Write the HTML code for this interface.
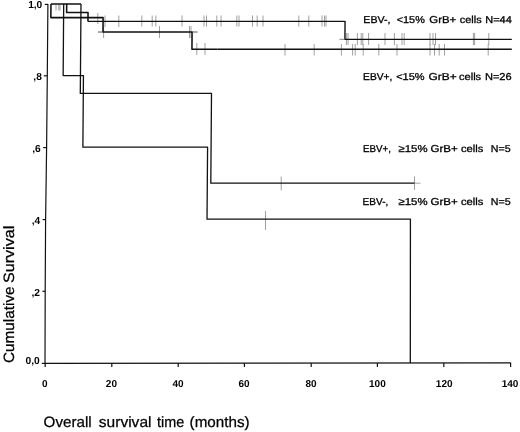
<!DOCTYPE html>
<html><head><meta charset="utf-8"><title>Cumulative Survival</title>
<style>
html,body{margin:0;padding:0;background:#fff;}
svg{display:block;}
text{font-family:"Liberation Sans",Arial,sans-serif;fill:#000;text-rendering:geometricPrecision;}
.b{font-weight:bold;font-size:9.6px;}
.lab text{font-size:10.0px;stroke:#000;stroke-width:0.3px;}
.ttl{font-size:15.0px;stroke:#000;stroke-width:0.25px;}
.ax{stroke:#111;stroke-width:1.2;fill:none;}
.cv{stroke:#111;stroke-width:1.4;fill:none;stroke-linejoin:round;}
.cv2{stroke:#111;stroke-width:1.3;fill:none;stroke-linejoin:round;}
.ce{stroke:#808080;stroke-width:0.75;fill:none;}
</style></head>
<body>
<svg width="520" height="432" viewBox="0 0 520 432">
<rect width="520" height="432" fill="#fff"/>
<!-- axes -->
<path class="ax" d="M47.9 4 L47.3 75.8 L46.6 147.6 L45.6 219.6 L45.2 291.3 L45 363.4 L510.4 362.9"/>
<g class="ax">
<path d="M44.8 4.4H48"/><path d="M43.8 75.8H47.3"/><path d="M43.2 147.6H46.6"/><path d="M42.6 219.6H45.6"/><path d="M42.4 291.3H45.2"/><path d="M41.8 363.4H45"/>
<path d="M45.2 363V367"/><path d="M111.8 363V367"/><path d="M178.2 363V367"/><path d="M244.4 363V367"/><path d="M311.2 363V367"/><path d="M377.4 363V367"/><path d="M443.8 363V367"/><path d="M510.6 362.6V367"/>
</g>
<!-- y axis tick labels -->
<g class="b" text-anchor="end" style="font-size:10.2px">
<text x="42.3" y="8.3">1,0</text>
<text x="41.8" y="79.8">,8</text>
<text x="40.7" y="151.8">,6</text>
<text x="40.2" y="223.8">,4</text>
<text x="39.9" y="295.8">,2</text>
<text x="39.7" y="363.8">0,0</text>
</g>
<!-- x axis tick labels -->
<g class="b" text-anchor="middle" style="font-size:10px">
<text x="44.7" y="386.7">0</text>
<text x="111.4" y="386.7">20</text>
<text x="178" y="386.7">40</text>
<text x="244" y="386.7">60</text>
<text x="311" y="386.7">80</text>
<text x="377.4" y="386.7">100</text>
<text x="444.2" y="386.7">120</text>
<text x="510.1" y="386.7">140</text>
</g>
<text class="ttl" x="43.64" y="426.6" textLength="48.09" lengthAdjust="spacingAndGlyphs">Overall</text>
<text class="ttl" x="98.79" y="426.6" textLength="52.71" lengthAdjust="spacingAndGlyphs">survival</text>
<text class="ttl" x="157.01" y="426.6" textLength="27.21" lengthAdjust="spacingAndGlyphs">time</text>
<text class="ttl" x="189.58" y="426.6" textLength="60.02" lengthAdjust="spacingAndGlyphs">(months)</text>
<text class="ttl" transform="translate(13.7 362.92) rotate(-90)" textLength="76.46" lengthAdjust="spacingAndGlyphs">Cumulative</text>
<text class="ttl" transform="translate(13.7 282.96) rotate(-90)" textLength="57.21" lengthAdjust="spacingAndGlyphs">Survival</text>

<!-- censoring marks -->
<g class="ce">
<path d="M56 4.8V10.5M58.8 4.8V10.5M60 4.8V10.5"/>
<path d="M97.8 13V24M105 15.5V27M118.8 15.5V27"/>
<path d="M103.6 26V38"/>
<path d="M141.8 15.5V26.5M152.2 15.5V26.5M155.8 15.5V26.5M182 15.5V26.5M204 15.5V26.5M206.5 15.5V26.5M216.8 15.5V26.5M221 15.5V26.5M236.8 15.5V26.5M239 15.5V26.5M252.5 15.5V26.5M257.2 15.5V26.5M263 15.5V26.5M298.8 15.5V26.5M308.8 15.5V26.5M322 15.5V26.5M324.5 15.5V26.5M326 15.5V26.5"/>
<path d="M159.5 26V38M189.5 26V38M191 26V38"/>
<path d="M196.8 43V55M205 43V55"/>
<path d="M285 44V55.5M314.2 44V55.5M341.4 44V55.5M352.6 44V55.5M355.2 44V55.5M363.2 44V55.5M378.8 44V55.5M397 44V55.5M430 44V55.5M434.5 44V55.5M439.2 44V55.5M444.5 44V55.5M488.2 44V55.5"/>
<path d="M346.4 33V45M348 33V45M357.4 33V45M361.2 33V45M362.8 33V45M368.6 33V45M385 33V45M394.4 33V45M402 33V45M404.2 33V45M430 33V45M433 33V45M435.5 33V45M473.4 33V45M474.6 33V45M488.8 33V45"/>
<path d="M281.2 176.5V190.5M414.5 176.5V190"/>
<path d="M265.5 211V230"/>
</g>

<!-- survival curves (slightly sheared like the scan) -->
<g transform="matrix(1 0 -0.0078 1 2.83 0)">
<!-- EBV- <15% -->
<path class="cv" style="stroke-width:1.55" d="M48.15 4.0H63.9V12.4H85.3V21.4"/>
<path class="cv2" style="stroke-width:1.2" d="M85.3 21.4H342.4"/>
<path class="cv" d="M342.4 20.9V39.35H509.3"/>
<path class="ce" style="stroke:#555" d="M337 39.3H342.4"/>
<!-- EBV+ <15% -->
<path class="cv" style="stroke-width:1.55" d="M63.9 4.0H78.2M48.15 4.0V17.6H100.4V31.95H189.5V49.3H215"/>
<path class="cv" d="M215 49.3H509.3"/>
<path class="ce" style="stroke:#444;stroke-width:0.9" d="M189.5 32H195M95.4 32H100.4"/>
<!-- EBV+ >=15% -->
<path class="cv2" d="M78.2 4.0V93.4H209.4V183.2H413.1"/>
<path class="ce" d="M413.1 183.2H419.1"/>
<!-- EBV- >=15% -->
<path class="cv2" d="M60.9 4.0V75.6H81.2V147.2H205.9V219.2H409.3L410.3 363"/>
</g>

<!-- legend labels -->
<g class="lab">
<text x="363.35" y="22.5" textLength="27.19" lengthAdjust="spacingAndGlyphs">EBV-,</text>
<text x="396.76" y="22.5" textLength="28.02" lengthAdjust="spacingAndGlyphs">&lt;15%</text>
<text x="429.33" y="22.5" textLength="26.87" lengthAdjust="spacingAndGlyphs">GrB+</text>
<text x="459.77" y="22.5" textLength="21.88" lengthAdjust="spacingAndGlyphs">cells</text>
<text x="485.32" y="22.5" textLength="26.49" lengthAdjust="spacingAndGlyphs">N=44</text>
<text x="363.08" y="79.9" textLength="29.28" lengthAdjust="spacingAndGlyphs">EBV+,</text>
<text x="396.15" y="79.9" textLength="28.44" lengthAdjust="spacingAndGlyphs">&lt;15%</text>
<text x="428.50" y="79.9" textLength="28.13" lengthAdjust="spacingAndGlyphs">GrB+</text>
<text x="459.07" y="79.9" textLength="22.08" lengthAdjust="spacingAndGlyphs">cells</text>
<text x="484.92" y="79.9" textLength="26.71" lengthAdjust="spacingAndGlyphs">N=26</text>
<text x="362.92" y="152.0" textLength="28.00" lengthAdjust="spacingAndGlyphs">EBV+,</text>
<text x="398.55" y="152.0" textLength="29.02" lengthAdjust="spacingAndGlyphs">≥15%</text>
<text x="430.52" y="152.0" textLength="27.29" lengthAdjust="spacingAndGlyphs">GrB+</text>
<text x="460.96" y="152.0" textLength="22.39" lengthAdjust="spacingAndGlyphs">cells</text>
<text x="490.85" y="152.0" textLength="19.81" lengthAdjust="spacingAndGlyphs">N=5</text>
<text x="362.60" y="205.3" textLength="25.69" lengthAdjust="spacingAndGlyphs">EBV-,</text>
<text x="398.55" y="205.3" textLength="29.02" lengthAdjust="spacingAndGlyphs">≥15%</text>
<text x="430.52" y="205.3" textLength="27.29" lengthAdjust="spacingAndGlyphs">GrB+</text>
<text x="460.96" y="205.3" textLength="22.39" lengthAdjust="spacingAndGlyphs">cells</text>
<text x="490.85" y="205.3" textLength="19.81" lengthAdjust="spacingAndGlyphs">N=5</text>
</g>
</svg>
</body></html>
